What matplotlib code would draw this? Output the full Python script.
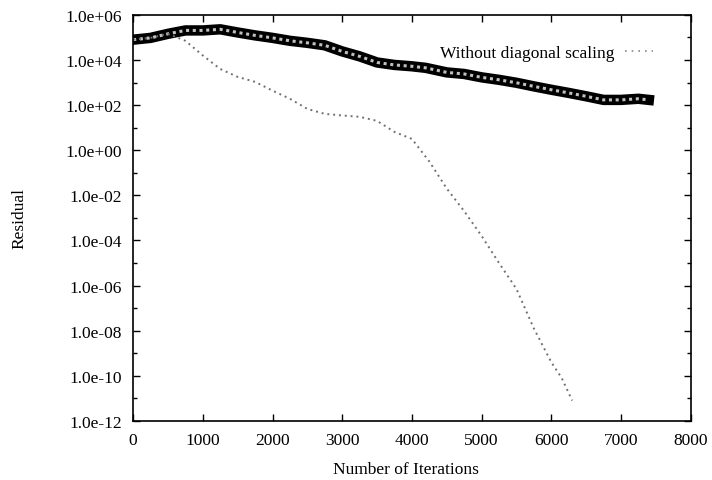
import numpy as np
import matplotlib
matplotlib.use("Agg")
import matplotlib.pyplot as plt
from matplotlib.lines import Line2D
from matplotlib.ticker import FixedLocator, NullFormatter

plt.rcParams['font.family'] = ['Liberation Serif', 'DejaVu Serif']

# residual (log10 of value)
iters_plain = [0, 250, 500, 750, 1000, 1250, 1500, 1750, 2000, 2250, 2500, 2750,
               3000, 3250, 3500, 3750, 4000, 4200, 4500, 4750, 5000, 5250, 5500,
               5750, 6000, 6250, 6500, 6750, 7000, 7250, 7400]
log_res_plain = [4.9, 4.98, 5.16, 5.31, 5.31, 5.36, 5.22, 5.09, 4.98, 4.85, 4.76, 4.65,
                 4.38, 4.16, 3.89, 3.78, 3.72, 3.65, 3.45, 3.38, 3.23, 3.12, 2.99,
                 2.83, 2.68, 2.54, 2.39, 2.23, 2.23, 2.28, 2.23]

iters_scaled = [0, 250, 500, 750, 1000, 1250, 1500, 1750, 2000, 2250, 2500, 2750,
                3000, 3250, 3500, 3750, 4000, 4250, 4500, 4750, 5000, 5250, 5500,
                5750, 6000, 6150, 6300]
log_res_scaled = [4.9, 4.98, 5.16, 4.85, 4.2, 3.6, 3.25, 3.03, 2.64, 2.28, 1.83, 1.61,
                  1.54, 1.48, 1.3, 0.81, 0.5, -0.5, -1.7, -2.7, -3.8, -5.0, -6.15,
                  -7.9, -9.4, -10.1, -11.1]

legend_label = "Without diagonal scaling"
y_ticks = [1e-12, 1e-10, 1e-08, 1e-06, 1e-04, 1e-02, 1e0, 1e2, 1e4, 1e6]
x_ticks = [0, 1000, 2000, 3000, 4000, 5000, 6000, 7000, 8000]

fig = plt.figure(figsize=(7.12, 4.81), dpi=100)
ax = fig.add_axes([0.187, 0.123, 0.783, 0.844])

res_plain = 10.0 ** np.array(log_res_plain)
res_scaled = 10.0 ** np.array(log_res_scaled)

# thick noisy black band, with a mottled grey core
ax.plot(iters_plain, res_plain, color='black', lw=7.5, solid_joinstyle='round')
ax.plot(iters_plain, res_plain, color='#c0c0c0', lw=2.2, ls=(0, (1, 1.2)))
# sparse grey dots for the converging run
ax.plot(iters_scaled, res_scaled, color='#707070', lw=1.4, ls=(0, (1, 2)))

ax.set_yscale('log')
ax.set_xlim(0, 8000)
ax.set_ylim(1e-12, 1e6)
ax.yaxis.set_major_locator(FixedLocator(y_ticks))
ax.yaxis.set_minor_locator(FixedLocator([10.0 ** k for k in range(-11, 6, 2)]))
ax.yaxis.set_minor_formatter(NullFormatter())
ax.set_yticklabels(["%.1e" % v for v in y_ticks])
ax.set_xticks(x_ticks)
ax.set_xticklabels([str(v) for v in x_ticks])

ax.tick_params(which='both', direction='in', top=True, right=True, labelsize=12.5, width=1)
ax.tick_params(which='major', length=5)
ax.tick_params(which='minor', length=3)
ax.tick_params(axis='y', which='major', pad=8)
ax.tick_params(axis='x', which='major', pad=8)
for s in ax.spines.values():
    s.set_linewidth(1.2)

ax.set_xlabel("Number of Iterations", fontsize=12.5)
ax.xaxis.set_label_coords(0.49, -0.1)
ax.set_ylabel("Residual", fontsize=12.5)
ax.yaxis.set_label_coords(-0.19, 0.5)

handle = Line2D([], [], color='#888888', lw=1.2, ls=(0, (1, 3)))
ax.legend([handle], [legend_label], loc='upper right', frameon=False,
          markerfirst=False, fontsize=12.5, handlelength=1.6, handletextpad=0.6,
          bbox_to_anchor=(0.96, 0.965))

fig.savefig("out.png", dpi=100)
